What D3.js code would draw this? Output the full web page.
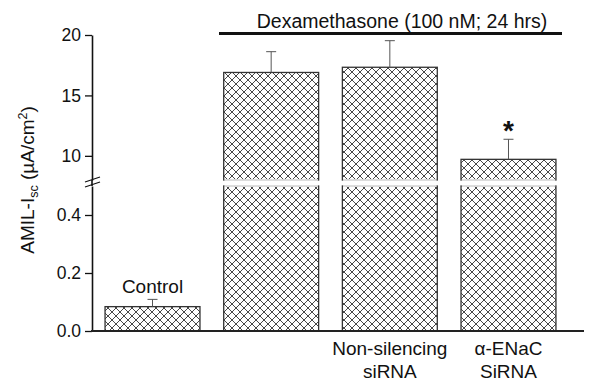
<!DOCTYPE html>
<html><head><meta charset="utf-8">
<script src="https://cdn.jsdelivr.net/npm/d3@7"></script>
<style>body{margin:0;background:#fff}svg{display:block}text{font-family:"Liberation Sans",Arial,sans-serif;fill:#111}</style>
</head><body><svg id="c" width="600" height="389"></svg>
<script>
const categories = ["Control", "Dex", "Non-silencing siRNA", "α-ENaC SiRNA"];
const labelLines = [["Control"], [], ["Non-silencing", "siRNA"], ["α-ENaC", "SiRNA"]];
const values = [0.084, 16.9, 17.33, 9.71];
const errors = [0.025, 1.72, 2.2, 1.66];
const lowTicks = [0.0, 0.2, 0.4];
const highTicks = [10, 15, 20];
const lowDomain = [0, 0.5];
const highDomain = [8, 20];

const svg = d3.select("#c");
const x = d3.scaleBand().domain(categories).range([92, 569]).paddingInner(0.2).paddingOuter(0.11);
const yLow = d3.scaleLinear().domain(lowDomain).range([331, 186]);
const yHigh = d3.scaleLinear().domain(highDomain).range([180, 35]);

const defs = svg.append("defs");
const pat = defs.append("pattern").attr("id","hatch").attr("patternUnits","userSpaceOnUse")
  .attr("width",8).attr("height",8);
pat.append("rect").attr("width",8).attr("height",8).attr("fill","#fff");
pat.append("path").attr("d","M0,0L8,8M8,0L0,8M-1,7L1,9M7,-1L9,1M-1,1L1,-1M7,9L9,7")
  .attr("stroke","#333").attr("stroke-width",0.9).attr("fill","none");

const g = svg.append("g");
categories.forEach((c,i)=>{
  const v = values[i];
  const x0 = x(c), w = x.bandwidth();
  const lowTop = yLow(Math.min(v, lowDomain[1]));
  g.append("rect").attr("x",x0).attr("y",lowTop).attr("width",w).attr("height",yLow(0)-lowTop)
    .attr("fill","url(#hatch)").attr("stroke","#333").attr("stroke-width",1.3);
  let top = lowTop, scale = yLow;
  if (v > highDomain[0]) {
    const hTop = yHigh(v);
    g.append("rect").attr("x",x0).attr("y",hTop).attr("width",w).attr("height",yHigh(highDomain[0])-hTop)
      .attr("fill","url(#hatch)").attr("stroke","#333").attr("stroke-width",1.3);
    g.append("line").attr("x1",x0+0.7).attr("x2",x0+w-0.7).attr("y1",yHigh(highDomain[0])).attr("y2",yHigh(highDomain[0]))
      .attr("stroke","#fff").attr("stroke-width",1.6);
    g.append("line").attr("x1",x0+0.7).attr("x2",x0+w-0.7).attr("y1",lowTop).attr("y2",lowTop)
      .attr("stroke","#fff").attr("stroke-width",1.6);
    top = hTop; scale = yHigh;
  }
  const cx = x0 + w/2;
  const eTop = scale(v + errors[i]);
  g.append("line").attr("x1",cx).attr("x2",cx).attr("y1",top).attr("y2",eTop).attr("stroke","#555").attr("stroke-width",1);
  g.append("line").attr("x1",cx-5).attr("x2",cx+5).attr("y1",eTop).attr("y2",eTop).attr("stroke","#555").attr("stroke-width",1);
});

const axLow = d3.axisLeft(yLow).tickValues(lowTicks).tickFormat(d3.format(".1f")).tickSize(7).tickSizeOuter(0);
const axHigh = d3.axisLeft(yHigh).tickValues(highTicks).tickFormat(d3.format("d")).tickSize(7).tickSizeOuter(0);
[axLow, axHigh].forEach(ax=>{
  const a = svg.append("g").attr("transform","translate(92,0)").call(ax);
  a.selectAll(".domain").attr("stroke","#111").attr("stroke-width",1.6);
  a.selectAll(".tick line").attr("stroke","#111").attr("stroke-width",1.3);
  a.selectAll(".tick text").attr("font-size",17.5).attr("x",-11).attr("fill","#111")
    .attr("font-family","Liberation Sans, Arial, sans-serif");
});
svg.append("line").attr("x1",92).attr("x2",92).attr("y1",yHigh(highDomain[0])).attr("y2",yLow(lowDomain[1]))
  .attr("stroke","#111").attr("stroke-width",1.6);
[0,5].forEach(d=>{
  svg.append("line").attr("x1",85).attr("y1",183+d-1).attr("x2",100).attr("y2",178+d-1)
    .attr("stroke","#111").attr("stroke-width",1.3);
});
svg.append("line").attr("x1",91).attr("x2",584).attr("y1",331).attr("y2",331).attr("stroke","#222").attr("stroke-width",1.8);

labelLines.forEach((lines,i)=>{
  const cx = x(categories[i]) + x.bandwidth()/2;
  if (i === 0) {
    svg.append("text").attr("x",cx).attr("y",293).attr("text-anchor","middle").attr("font-size",19).text(lines[0]);
  } else {
    lines.forEach((t,j)=>{
      svg.append("text").attr("x",cx).attr("y",355+j*23).attr("text-anchor","middle").attr("font-size",19).text(t);
    });
  }
});

svg.append("line").attr("x1",219).attr("x2",562).attr("y1",33.5).attr("y2",33.5).attr("stroke","#111").attr("stroke-width",2.8);
svg.append("text").attr("x",402).attr("y",27.5).attr("text-anchor","middle").attr("font-size",19.5)
  .text("Dexamethasone (100 nM; 24 hrs)");

const cx4 = x(categories[3]) + x.bandwidth()/2;
svg.append("text").attr("x",cx4).attr("y",yHigh(values[3]+errors[3]) + 1).attr("text-anchor","middle")
  .attr("font-size",28).attr("font-weight","bold").text("*");

const yl = svg.append("text").attr("transform","translate(34,180) rotate(-90)").attr("text-anchor","middle").attr("font-size",19);
yl.append("tspan").text("AMIL-I");
yl.append("tspan").attr("font-size",12.5).attr("dy",4).text("sc");
yl.append("tspan").attr("dy",-4).text(" (µA/cm");
yl.append("tspan").attr("font-size",12.5).attr("dy",-7).text("2");
yl.append("tspan").attr("dy",7).text(")");
</script></body></html>
